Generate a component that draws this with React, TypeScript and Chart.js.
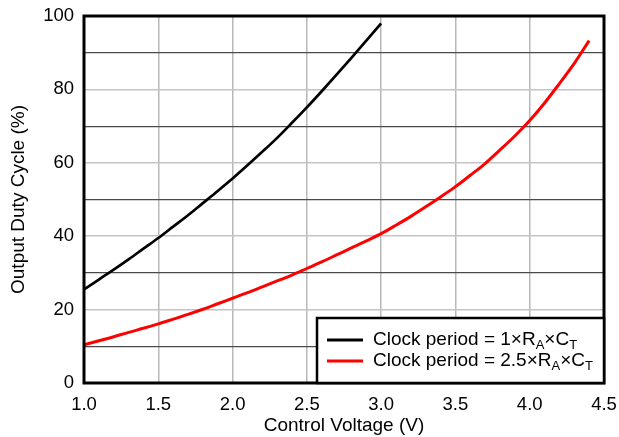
import { useEffect, useRef } from "react";
import { Chart, registerables } from "chart.js";

Chart.register(...registerables);

// Control voltage (V) sample points
const voltageShort = [1.0, 1.1, 1.2, 1.3, 1.4, 1.5, 1.6, 1.7, 1.8, 1.9, 2.0, 2.1, 2.2, 2.3, 2.4, 2.5, 2.6, 2.7, 2.8, 2.9, 3.0];
const voltageLong = [
  1.0, 1.1, 1.2, 1.3, 1.4, 1.5, 1.6, 1.7, 1.8, 1.9, 2.0, 2.1, 2.2, 2.3, 2.4, 2.5, 2.6, 2.7,
  2.8, 2.9, 3.0, 3.1, 3.2, 3.3, 3.4, 3.5, 3.6, 3.7, 3.8, 3.9, 4.0, 4.1, 4.2, 4.3, 4.4,
];

// Output duty cycle (%), clock period = 1×RA×CT
const dutyPeriod1 = [
  25.5, 28.2, 30.9, 33.7, 36.6, 39.5, 42.6, 45.7, 49.0, 52.3, 55.7, 59.3, 63.0, 66.8, 70.9,
  75.1, 79.5, 84.0, 88.6, 93.3, 98.0,
];

// Output duty cycle (%), clock period = 2.5×RA×CT
const dutyPeriod25 = [
  10.4, 11.5, 12.6, 13.8, 14.9, 16.1, 17.4, 18.7, 20.1, 21.6, 23.1, 24.6, 26.2, 27.8, 29.4,
  31.2, 33.0, 34.9, 36.8, 38.7, 40.7, 43.0, 45.4, 48.0, 50.7, 53.5, 56.6, 59.8, 63.5, 67.3,
  71.5, 76.3, 81.6, 87.1, 93.3,
];

// Legend rows: [text, isSubscript]
const legendRows: { color: string; parts: [string, boolean][] }[] = [
  { color: "#000000", parts: [["Clock period = 1×R", false], ["A", true], ["×C", false], ["T", true]] },
  { color: "#ff0000", parts: [["Clock period = 2.5×R", false], ["A", true], ["×C", false], ["T", true]] },
];

const FONT = '"Liberation Sans", Arial, sans-serif';

// keep label overflow from shrinking the plot area
const clearScalePadding = (scale: any) => {
  scale.paddingTop = 0;
  scale.paddingBottom = 0;
  scale.paddingLeft = 0;
  scale.paddingRight = 0;
};

const framePlugin = {
  id: "frameAndLegend",
  afterDatasetsDraw(chart: any) {
    const { ctx, chartArea } = chart;
    const { left, right, top, bottom } = chartArea;
    ctx.save();
    // plot frame
    ctx.strokeStyle = "#000";
    ctx.lineWidth = 3;
    ctx.strokeRect(left, top, right - left, bottom - top);

    // legend box in the lower-right corner
    const boxLeft = 317;
    const boxTop = 318;
    ctx.fillStyle = "#fff";
    ctx.fillRect(boxLeft, boxTop, right - boxLeft, bottom - boxTop);
    ctx.lineWidth = 2.5;
    ctx.strokeRect(boxLeft, boxTop, right - boxLeft, bottom - boxTop);

    legendRows.forEach((row, i) => {
      const y = 340 + i * 21;
      ctx.strokeStyle = row.color;
      ctx.lineWidth = 3;
      ctx.beginPath();
      ctx.moveTo(327, y);
      ctx.lineTo(363, y);
      ctx.stroke();

      let x = 373;
      ctx.fillStyle = "#000";
      ctx.textBaseline = "middle";
      ctx.textAlign = "left";
      for (const [text, sub] of row.parts) {
        ctx.font = sub ? `13px ${FONT}` : `19px ${FONT}`;
        ctx.fillText(text, x, sub ? y + 5 : y);
        x += ctx.measureText(text).width;
      }
    });
    ctx.restore();
  },
};

export default function App() {
  const canvasRef = useRef<HTMLCanvasElement | null>(null);

  useEffect(() => {
    const canvas = canvasRef.current;
    if (!canvas) return;
    const chart = new Chart(canvas, {
      type: "line",
      data: {
        datasets: [
          {
            label: "Clock period = 1×RA×CT",
            data: voltageShort.map((v, i) => ({ x: v, y: dutyPeriod1[i] })),
            borderColor: "#000000",
            borderWidth: 2.7,
            pointRadius: 0,
            cubicInterpolationMode: "monotone",
          },
          {
            label: "Clock period = 2.5×RA×CT",
            data: voltageLong.map((v, i) => ({ x: v, y: dutyPeriod25[i] })),
            borderColor: "#ff0000",
            borderWidth: 3,
            pointRadius: 0,
            cubicInterpolationMode: "monotone",
          },
        ],
      },
      options: {
        responsive: false,
        animation: false,
        devicePixelRatio: 1,
        layout: { padding: { top: 16, right: 15, left: 0, bottom: 0 } },
        plugins: {
          legend: { display: false },
          tooltip: { enabled: false },
        },
        scales: {
          x: {
            type: "linear",
            min: 1,
            max: 4.5,
            afterFit(scale: any) {
              scale.height = 54;
              clearScalePadding(scale);
            },
            border: { display: false },
            grid: { color: "#b8b8b8", lineWidth: 1.5, drawTicks: false },
            ticks: {
              stepSize: 0.5,
              padding: 11,
              color: "#000",
              font: { family: FONT, size: 18.5 },
              maxRotation: 0,
              callback: (v: any) => Number(v).toFixed(1),
            },
            title: {
              display: true,
              text: "Control Voltage (V)",
              color: "#000",
              font: { family: FONT, size: 19 },
              padding: { top: 0, bottom: 0 },
            },
          },
          y: {
            type: "linear",
            min: 0,
            max: 100,
            afterFit(scale: any) {
              scale.width = 84;
              clearScalePadding(scale);
            },
            border: { display: false },
            grid: {
              drawTicks: false,
              color: (c: any) => (c.tick && c.tick.value % 20 === 0 ? "#c4c4c4" : "#4a4a4a"),
              lineWidth: (c: any) => (c.tick && c.tick.value % 20 === 0 ? 1.5 : 1.2),
            },
            ticks: {
              stepSize: 10,
              padding: 10,
              color: "#000",
              font: { family: FONT, size: 18.5 },
              callback: (v: any) => (Number(v) % 20 === 0 ? String(v) : ""),
            },
            title: {
              display: true,
              text: "Output Duty Cycle (%)",
              color: "#000",
              font: { family: FONT, size: 19 },
              padding: { top: 7, bottom: 0 },
            },
          },
        },
      },
      plugins: [framePlugin],
    });
    return () => chart.destroy();
  }, []);

  return (
    <div style={{ position: "fixed", left: 0, top: 0, width: 619, height: 437, background: "#fff" }}>
      <canvas ref={canvasRef} width={619} height={437} style={{ width: 619, height: 437, display: "block" }} />
    </div>
  );
}
